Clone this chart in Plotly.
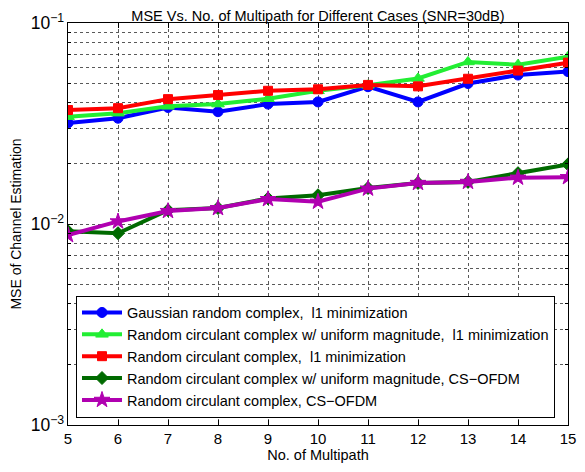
import plotly.graph_objects as go

x_multipath = [5, 6, 7, 8, 9, 10, 11, 12, 13, 14, 15]

gauss_l1 = [0.0318, 0.0336, 0.0380, 0.0362, 0.0395, 0.0405, 0.0482, 0.0405, 0.0500, 0.0551, 0.0573]
circ_unif_l1 = [0.0342, 0.0356, 0.0385, 0.0395, 0.0420, 0.0460, 0.0490, 0.0530, 0.0640, 0.0620, 0.0679]
circ_l1 = [0.0369, 0.0377, 0.0418, 0.0438, 0.0460, 0.0468, 0.0492, 0.0484, 0.0528, 0.0580, 0.0635]
circ_unif_cs = [0.0092, 0.0090, 0.0117, 0.0120, 0.0134, 0.0139, 0.0151, 0.0160, 0.0162, 0.0179, 0.0198]
circ_cs = [0.0088, 0.0103, 0.0116, 0.0120, 0.0133, 0.0129, 0.0150, 0.0160, 0.0162, 0.0170, 0.0171]

series_names = [
    "Gaussian random complex,  l1 minimization",
    "Random circulant complex w/ uniform magnitude,  l1 minimization",
    "Random circulant complex,  l1 minimization",
    "Random circulant complex w/ uniform magnitude, CS\u2212OFDM",
    "Random circulant complex, CS\u2212OFDM",
]
series_values = [gauss_l1, circ_unif_l1, circ_l1, circ_unif_cs, circ_cs]
colors = ["#0000ff", "#22ee33", "#ff0000", "#006a00", "#b000b0"]
symbols = ["circle", "triangle-up", "square", "diamond", "star"]
sizes = [10, 11, 9, 10, 12]

title_text = "MSE Vs. No. of Multipath for Different Cases (SNR=30dB)"
x_title = "No. of Multipath"
y_title = "MSE of Channel Estimation"

fig = go.Figure()
for name, vals, c, s, sz in zip(series_names, series_values, colors, symbols, sizes):
    fig.add_trace(go.Scatter(
        x=x_multipath, y=vals, name=name, mode="lines+markers",
        line=dict(color=c, width=4),
        marker=dict(symbol=s, size=sz, color=c, line=dict(color=c, width=1)),
    ))

font_family = "Liberation Sans, Arial, sans-serif"
grid_col = "rgba(0,0,0,0.65)"

fig.update_layout(
    width=577, height=464,
    margin=dict(l=60, r=17, t=15, b=47),
    paper_bgcolor="white", plot_bgcolor="white",
    font=dict(family=font_family, size=14, color="black"),
    title=dict(text=title_text, x=0.5, xanchor="center", xref="paper",
               y=1, yref="paper", yanchor="bottom", pad=dict(b=2),
               font=dict(size=14.5, color="black")),
    showlegend=True,
    legend=dict(
        x=0.016, y=0.322, xanchor="left", yanchor="top",
        bgcolor="white", bordercolor="black", borderwidth=1,
        font=dict(size=14.5, color="black"),
        itemwidth=40, tracegroupgap=0,
    ),
)

fig.update_xaxes(
    range=[5, 15], dtick=1, tick0=5, automargin=False,
    showline=True, linecolor="black", linewidth=1, mirror="ticks",
    ticks="inside", ticklen=5, tickcolor="black",
    showgrid=True, gridcolor=grid_col, griddash="dot", gridwidth=1,
    zeroline=False,
    tickfont=dict(size=15),
    title=dict(text=x_title, font=dict(size=14.5), standoff=3),
)
fig.update_yaxes(
    type="log", range=[-3, -1], dtick=1, automargin=False,
    exponentformat="power", showexponent="all",
    showline=True, linecolor="black", linewidth=1, mirror="ticks",
    ticks="inside", ticklen=5, tickcolor="black",
    showgrid=True, gridcolor=grid_col, griddash="dot", gridwidth=1,
    minor=dict(dtick="D1", showgrid=True, gridcolor=grid_col, griddash="dot",
               ticks="inside", ticklen=3, tickcolor="black"),
    zeroline=False,
    tickfont=dict(size=14),
    title=dict(text=y_title, font=dict(size=14), standoff=6),
)

fig.write_html("out.html")
